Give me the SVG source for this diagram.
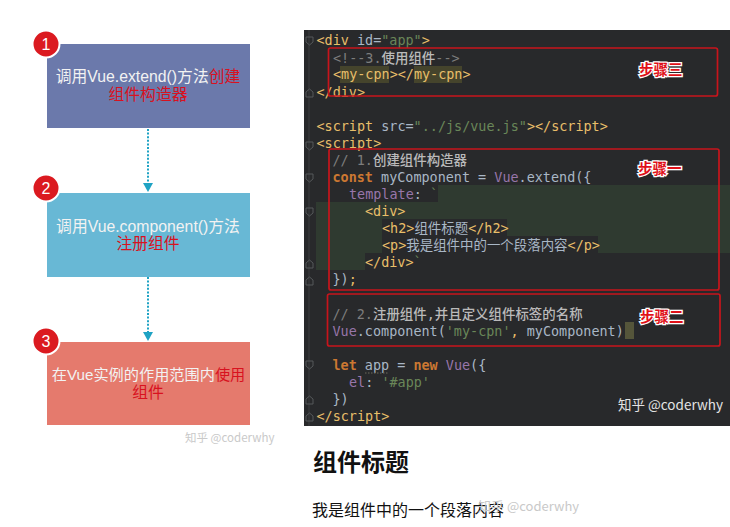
<svg xmlns="http://www.w3.org/2000/svg" width="730" height="527" viewBox="0 0 730 527">
<style>
.n{font-family:"Liberation Sans","Noto Sans CJK SC",sans-serif;font-size:15.8px;fill:#f2f2f2;text-anchor:middle}
.r{fill:#d8121f}
.b{fill:#db1a20;stroke:#fff;stroke-width:2}
.bn{font-family:"Liberation Sans",sans-serif;font-size:16px;fill:#fff;text-anchor:middle}
.c{stroke:#1fa3c4;stroke-width:2;stroke-dasharray:2 1.6;fill:none}
.h{fill:#1fa3c4}
.m{font-family:"DejaVu Sans Mono","Noto Sans CJK SC",monospace;font-size:13.45px;fill:#a9b7c6;white-space:pre}
.t{fill:#e8bf6a}.o{fill:#cc7832;font-weight:bold}.g{fill:#7d7d7d}.p{fill:#9876aa}.s{fill:#6a8759}.a{fill:#a9b7c6}.y{fill:#bababa;font-weight:500}
.box{fill:none;stroke:#c8141c;stroke-width:1.7}
.st{font-family:"Noto Sans CJK SC",sans-serif;font-weight:bold;font-size:14.5px;fill:#e01018;stroke:#fff;stroke-width:2.5px;paint-order:stroke}
.w{font-family:"Noto Sans CJK SC",sans-serif;font-size:11.5px;fill:#c9c9c9}
.fold{fill:none;stroke:#55585a;stroke-width:1}
</style>
<rect width="730" height="527" fill="#fff"/>

<g id="connectors">
<path class="c" d="M148 129V183"/><path class="h" d="M143 183H153L148 192Z"/>
<path class="c" d="M148 277V332"/><path class="h" d="M143 332H153L148 341Z"/>
</g>

<g id="node-1">
<rect x="47" y="44" width="203" height="84" fill="#6b79ab"/>
<text class="n" x="148" y="81.500">调用Vue.extend()方法<tspan class="r">创建</tspan></text>
<text class="n r" x="148" y="100">组件构造器</text>
<circle class="b" cx="46" cy="44" r="13.5"/><text class="bn" x="46" y="50">1</text>
</g>
<g id="node-2">
<rect x="47" y="193" width="203" height="84" fill="#68b8d5"/>
<text class="n" x="148" y="231.500">调用Vue.component()方法</text>
<text class="n r" x="148" y="249">注册组件</text>
<circle class="b" cx="46" cy="188" r="13.5"/><text class="bn" x="46" y="194">2</text>
</g>
<g id="node-3">
<rect x="47" y="342" width="203" height="83" fill="#e57a6d"/>
<text class="n" x="148.500" y="380" style="font-size:15.2px">在Vue实例的作用范围内<tspan class="r">使用</tspan></text>
<text class="n r" x="148" y="398">组件</text>
<circle class="b" cx="46" cy="341" r="13.5"/><text class="bn" x="46" y="347">3</text>
</g>
<text class="w" x="185" y="442">知乎 @coderwhy</text>

<rect x="304" y="30" width="426" height="396" fill="#28292b"/>
<path d="M309 30V426" stroke="#3c3e40" stroke-width="1"/>
<rect x="438" y="185" width="292" height="17" fill="#2f3a30"/>
<rect x="316" y="202" width="414" height="17" fill="#2f3a30"/>
<rect x="316" y="219" width="66" height="34" fill="#2f3a30"/>
<rect x="507" y="219" width="223" height="17" fill="#2f3a30"/>
<rect x="598" y="236" width="132" height="17" fill="#2f3a30"/>
<rect x="316" y="253" width="49" height="17" fill="#2f3a30"/>
<rect x="340" y="66" width="49" height="17" fill="#45442c"/>
<rect x="414" y="66" width="48" height="17" fill="#45442c"/>
<rect x="625" y="322" width="9" height="17" fill="#55553a"/>
<path class="fold" d="M306 37h7v5l-3.500 3-3.500-3zM306 97v-5l3.500-3 3.500 3v5zM306 142h7v5l-3.500 3-3.500-3zM306 174h7v5l-3.500 3-3.500-3zM306 208h7v5l-3.500 3-3.500-3zM306 268v-5l3.500-3 3.500 3v5zM306 285v-5l3.500-3 3.500 3v5zM306 361h7v5l-3.500 3-3.500-3zM306 404v-5l3.500-3 3.500 3v5zM306 421v-5l3.500-3 3.500 3v5z"/>

<text class="m t" x="316.500" y="45" xml:space="preserve">&lt;div <tspan class="a">id=</tspan><tspan class="s">"app"</tspan>&gt;</text>
<text class="m g" x="333" y="62.500" xml:space="preserve">&lt;!--3.<tspan class="y">使用组件</tspan>--&gt;</text>
<text class="m t" x="333" y="79" xml:space="preserve">&lt;my-cpn&gt;&lt;/my-cpn&gt;</text>
<text class="m t" x="316.500" y="96.500" xml:space="preserve">&lt;/div&gt;</text>
<text class="m t" x="316.500" y="131" xml:space="preserve">&lt;script <tspan class="a">src=</tspan><tspan class="s">"../js/vue.js"</tspan>&gt;&lt;/script&gt;</text>
<text class="m t" x="316.500" y="148" xml:space="preserve">&lt;script&gt;</text>
<text class="m g" x="332.500" y="164.500" xml:space="preserve">// 1.<tspan class="y">创建组件构造器</tspan></text>
<text class="m" x="332.500" y="182" xml:space="preserve"><tspan class="o">const</tspan> myComponent = <tspan class="p">Vue</tspan>.extend({</text>
<text class="m p" x="349" y="199" xml:space="preserve">template<tspan class="a">:</tspan> <tspan class="s">`</tspan></text>
<text class="m t" x="365" y="216" xml:space="preserve">&lt;div&gt;</text>
<text class="m t" x="382" y="233" xml:space="preserve">&lt;h2&gt;<tspan class="a">组件标题</tspan>&lt;/h2&gt;</text>
<text class="m t" x="382" y="250" xml:space="preserve">&lt;p&gt;<tspan class="a">我是组件中的一个段落内容</tspan>&lt;/p&gt;</text>
<text class="m t" x="365" y="267" xml:space="preserve">&lt;/div&gt;<tspan class="s">`</tspan></text>
<text class="m" x="332.500" y="284" xml:space="preserve">})<tspan class="t">;</tspan></text>
<text class="m g" x="332.500" y="318.500" xml:space="preserve">// 2.<tspan class="y">注册组件,并且定义组件标签的名称</tspan></text>
<text class="m" x="332.500" y="336" xml:space="preserve"><tspan class="p">Vue</tspan>.component(<tspan class="s">'my-cpn'</tspan><tspan class="t">,</tspan> myComponent)</text>
<text class="m" x="332.500" y="370" xml:space="preserve"><tspan class="o">let</tspan> app = <tspan class="o">new</tspan> <tspan class="p">Vue</tspan>({</text>
<path d="M365 373h24" stroke="#6b6b5a" stroke-width="1" stroke-dasharray="1.500 1.500"/>
<text class="m p" x="349" y="387" xml:space="preserve">el<tspan class="a">:</tspan> <tspan class="s">'#app'</tspan></text>
<text class="m" x="332.500" y="404" xml:space="preserve">})</text>
<text class="m t" x="316.500" y="421" xml:space="preserve">&lt;/script&gt;</text>

<rect class="box" x="328.500" y="48" width="389" height="48" rx="2"/>
<rect class="box" x="329" y="149" width="390" height="141" rx="2"/>
<rect class="box" x="327.500" y="294" width="392.500" height="52" rx="2"/>
<text class="st" x="639" y="75">步骤三</text>
<text class="st" x="638" y="174">步骤一</text>
<text class="st" x="640" y="322">步骤二</text>
<text x="618" y="410" style="font-family:'Noto Sans CJK SC',sans-serif;font-size:13.500px;fill:#e4e4e4">知乎 @coderwhy</text>

<text x="313" y="471" style="font-family:'Noto Sans CJK SC',sans-serif;font-size:24px;font-weight:bold;fill:#111">组件标题</text>
<text x="312" y="516" style="font-family:'Noto Sans CJK SC',sans-serif;font-size:16px;fill:#111">我是组件中的一个段落内容</text>
<text class="w" x="478" y="511" style="font-size:13px">知乎 @coderwhy</text>
</svg>
